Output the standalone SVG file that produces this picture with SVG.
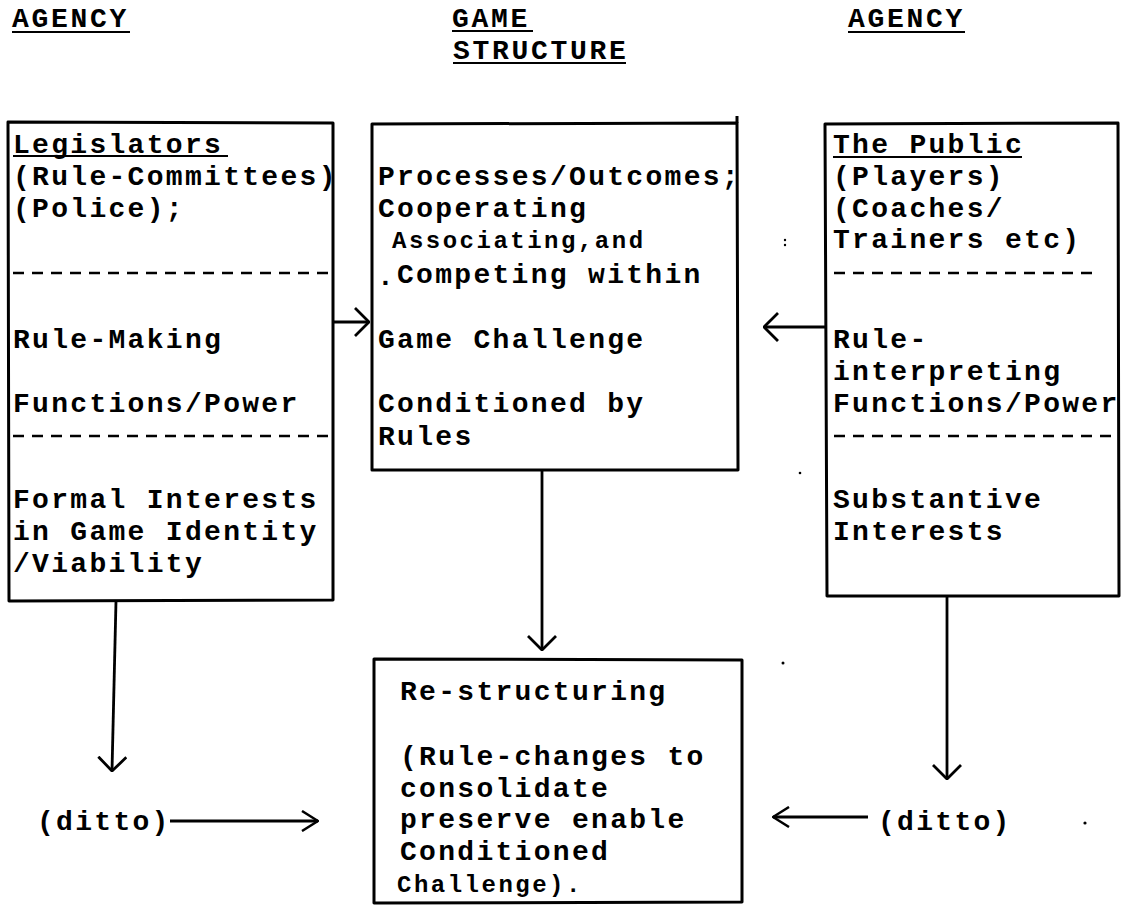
<svg xmlns="http://www.w3.org/2000/svg" width="1124" height="915" viewBox="0 0 1124 915">
<style>
.t{font-family:"Liberation Mono","Courier New",monospace;font-weight:bold;font-size:28px;letter-spacing:2.3px;fill:#000}
.s{font-family:"Liberation Mono","Courier New",monospace;font-weight:bold;font-size:24px;letter-spacing:2.5px;fill:#000}
.h{font-family:"Liberation Mono","Courier New",monospace;font-weight:bold;font-size:28px;letter-spacing:2.7px;fill:#000}
.box{fill:none;stroke:#000;stroke-width:3;stroke-linejoin:round}
.ul{stroke:#000;stroke-width:2}
.dash{stroke:#000;stroke-width:2.5;stroke-dasharray:11 8}
.c{fill:none;stroke:#000;stroke-width:2.8}
</style>
<defs>
<marker id="big" viewBox="0 0 16 30" refX="15" refY="15" markerWidth="16" markerHeight="30" markerUnits="userSpaceOnUse" orient="auto">
<path d="M1,1 L15,15 L1,29" fill="none" stroke="#000" stroke-width="2.8"/>
</marker>
<marker id="small" viewBox="0 0 18 22" refX="17" refY="11" markerWidth="18" markerHeight="22" markerUnits="userSpaceOnUse" orient="auto">
<path d="M1,1 L17,11 L1,21" fill="none" stroke="#000" stroke-width="2.5"/>
</marker>
</defs>
<g id="headers">
<text class="h" x="12" y="27">AGENCY</text>
<line class="ul" x1="12" y1="32" x2="130" y2="32"/>
<text class="h" x="452" y="27">GAME</text>
<line class="ul" x1="452" y1="31" x2="533" y2="31"/>
<text class="h" x="453" y="59">STRUCTURE</text>
<line class="ul" x1="453" y1="63" x2="626" y2="63"/>
<text class="h" x="848" y="27">AGENCY</text>
<line class="ul" x1="848" y1="32" x2="965" y2="32"/>
</g>
<g id="legislators">
<path class="box" d="M8,122 L333,123 L333,600 L9,601 Z"/>
<text class="t" x="13" y="153">Legislators</text>
<line class="ul" x1="13" y1="156" x2="228" y2="156"/>
<text class="t" x="13" y="185">(Rule-Committees)</text>
<text class="t" x="13" y="217">(Police);</text>
<line class="dash" x1="13" y1="273" x2="331" y2="273"/>
<text class="t" x="13" y="348">Rule-Making</text>
<text class="t" x="13" y="412">Functions/Power</text>
<line class="dash" x1="13" y1="436" x2="331" y2="436"/>
<text class="t" x="13" y="508">Formal Interests</text>
<text class="t" x="13" y="540">in Game Identity</text>
<text class="t" x="13" y="572">/Viability</text>
</g>
<g id="game-structure">
<path class="box" d="M372,124 L737,123 L738,470 L372,470 Z"/>
<line class="box" x1="737" y1="123" x2="737" y2="116"/>
<text class="t" x="378" y="185">Processes/Outcomes;</text>
<text class="t" x="378" y="217">Cooperating</text>
<text class="s" x="392" y="248">Associating,and</text>
<text class="t" x="377" y="285">.</text>
<text class="t" x="397" y="283">Competing within</text>
<text class="t" x="378" y="348">Game Challenge</text>
<text class="t" x="378" y="412">Conditioned by</text>
<text class="t" x="378" y="445">Rules</text>
</g>
<g id="public">
<path class="box" d="M825,124 L1118,123 L1119,596 L827,596 Z"/>
<text class="t" x="833" y="153">The Public</text>
<line class="ul" x1="833" y1="157" x2="1022" y2="157"/>
<text class="t" x="833" y="185">(Players)</text>
<text class="t" x="833" y="217">(Coaches/</text>
<text class="t" x="833" y="248">Trainers etc)</text>
<line class="dash" x1="834" y1="273" x2="1093" y2="273"/>
<text class="t" x="833" y="348">Rule-</text>
<text class="t" x="833" y="380">interpreting</text>
<text class="t" x="833" y="412">Functions/Power</text>
<line class="dash" x1="834" y1="436" x2="1113" y2="436"/>
<text class="t" x="833" y="508">Substantive</text>
<text class="t" x="833" y="540">Interests</text>
</g>
<g id="restructuring">
<path class="box" d="M374,659 L742,660 L742,902 L374,903 Z"/>
<text class="t" x="400" y="700">Re-structuring</text>
<text class="t" x="400" y="765">(Rule-changes to</text>
<text class="t" x="400" y="797">consolidate</text>
<text class="t" x="400" y="828">preserve enable</text>
<text class="t" x="400" y="860">Conditioned</text>
<text class="s" x="397" y="892">Challenge).</text>
</g>
<g id="ditto-left">
<text class="t" x="37" y="830">(ditto)</text>
</g>
<g id="ditto-right">
<text class="t" x="878" y="830">(ditto)</text>
</g>
<g id="connectors">
<line class="c" x1="333" y1="322" x2="369" y2="322" marker-end="url(#big)"/>
<line class="c" x1="825" y1="327" x2="764" y2="327" marker-end="url(#big)"/>
<line class="c" x1="542" y1="470" x2="542" y2="650" marker-end="url(#big)"/>
<line class="c" x1="116" y1="601" x2="112" y2="771" marker-end="url(#big)"/>
<line class="c" x1="947" y1="596" x2="947" y2="779" marker-end="url(#big)"/>
<line class="c" x1="170" y1="821" x2="318" y2="821" marker-end="url(#small)"/>
<line class="c" x1="868" y1="817" x2="773" y2="817" marker-end="url(#small)"/>
</g>
<g id="specks" fill="#000">
<circle cx="785" cy="240" r="1.2"/>
<circle cx="785" cy="245" r="1.2"/>
<circle cx="800" cy="473" r="1.3"/>
<circle cx="783" cy="663" r="1.5"/>
<circle cx="1085" cy="823" r="1.6"/>
</g>
</svg>
